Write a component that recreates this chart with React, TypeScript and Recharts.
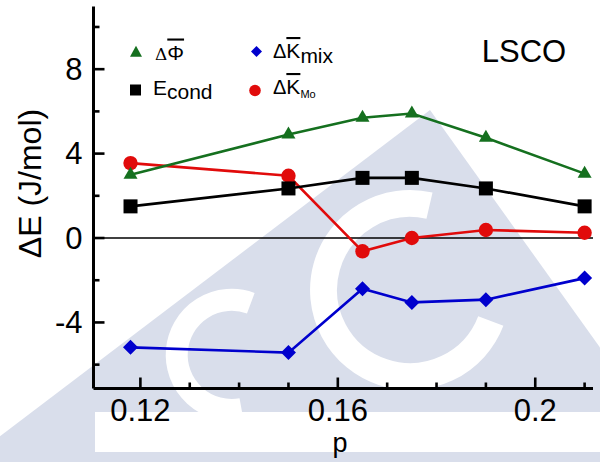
import React from 'react';
import {
  LineChart,
  Line,
  XAxis,
  YAxis,
  ReferenceLine,
  Customized,
} from 'recharts';

// Hole doping p of the LSCO samples
const pValues = [0.118, 0.15, 0.165, 0.175, 0.19, 0.21];
// Energy differences in J/mol
const deltaPhi = [3.0, 4.9, 5.7, 5.9, 4.75, 3.05];
const eCond = [1.5, 2.35, 2.85, 2.85, 2.35, 1.5];
const deltaKmix = [-5.18, -5.43, -2.4, -3.05, -2.92, -1.9];
const deltaKmo = [3.55, 2.95, -0.63, 0.0, 0.38, 0.25];

// Axis ticks
const xMajorTicks = [0.12, 0.16, 0.2];
const xMinorTicks = [0.13, 0.14, 0.15, 0.17, 0.18, 0.19, 0.21];
const xTickLabels = ['0.12', '0.16', '0.2'];
const yMajorTicks = [-4, 0, 4, 8];
const yMinorTicks = [-6, -2, 2, 6, 10];
const yTickLabels = ['-4', '0', '4', '8'];

const xDomain = [0.1105, 0.2117];
const yDomain = [-7.13, 10.97];

const rows = pValues.map((p, i) => ({
  p,
  phi: deltaPhi[i],
  econd: eCond[i],
  kmix: deltaKmix[i],
  kmo: deltaKmo[i],
}));

const xTicks = [...xMajorTicks, ...xMinorTicks].sort((a, b) => a - b);
const yTicks = [...yMajorTicks, ...yMinorTicks].sort((a, b) => a - b);

const FONT = '"Liberation Sans", Arial, Helvetica, sans-serif';
const GREEN = '#15701f';
const RED = '#e10b0b';
const BLUE = '#0000cd';
const BLACK = '#000000';
const MARK = '#d9deeb';

const majorIndex = (v: number, majors: number[]) =>
  majors.findIndex((m) => Math.abs(m - v) < 1e-9);

// ---- marker glyphs ----
const Tri = ({ cx, cy, w, h, fill }: any) => (
  <polygon
    points={`${cx},${cy - (2 * h) / 3} ${cx - w / 2},${cy + h / 3} ${cx + w / 2},${cy + h / 3}`}
    fill={fill}
  />
);
const Sq = ({ cx, cy, s, fill }: any) => (
  <rect x={cx - s / 2} y={cy - s / 2} width={s} height={s} fill={fill} />
);
const Dia = ({ cx, cy, r, fill }: any) => (
  <polygon
    points={`${cx},${cy - r} ${cx + r},${cy} ${cx},${cy + r} ${cx - r},${cy}`}
    fill={fill}
  />
);
const Circ = ({ cx, cy, r, fill }: any) => <circle cx={cx} cy={cy} r={r} fill={fill} />;

const triDot = (props: any) => (
  <Tri key={`t${props.index}`} cx={props.cx} cy={props.cy} w={14} h={12} fill={GREEN} />
);
const sqDot = (props: any) => (
  <Sq key={`s${props.index}`} cx={props.cx} cy={props.cy} s={14} fill={BLACK} />
);
const diaDot = (props: any) => (
  <Dia key={`d${props.index}`} cx={props.cx} cy={props.cy} r={7.5} fill={BLUE} />
);
const circDot = (props: any) => (
  <Circ key={`c${props.index}`} cx={props.cx} cy={props.cy} r={7.2} fill={RED} />
);

// ---- axis ticks (inward, long majors / short minors) ----
const BottomTick = (props: any) => {
  const { x, y, payload } = props;
  const idx = majorIndex(payload.value, xMajorTicks);
  const major = idx >= 0;
  return (
    <g>
      <line x1={x} x2={x} y1={y} y2={y - (major ? 11 : 6)} stroke={BLACK} strokeWidth={2.6} />
      {major && (
        <text x={x} y={y + 32.5} textAnchor="middle" fontSize={31} fontFamily={FONT} fill={BLACK}>
          {xTickLabels[idx]}
        </text>
      )}
    </g>
  );
};

const TopTick = (props: any) => {
  const { x, y, payload } = props;
  const major = majorIndex(payload.value, xMajorTicks) >= 0;
  return <line x1={x} x2={x} y1={y} y2={y + (major ? 11 : 6)} stroke={BLACK} strokeWidth={2.6} />;
};

const LeftTick = (props: any) => {
  const { x, y, payload } = props;
  const idx = majorIndex(payload.value, yMajorTicks);
  const major = idx >= 0;
  return (
    <g>
      <line x1={x} x2={x + (major ? 11 : 6)} y1={y} y2={y} stroke={BLACK} strokeWidth={2.6} />
      {major && (
        <text x={x - 11} y={y + 10.5} textAnchor="end" fontSize={31} fontFamily={FONT} fill={BLACK}>
          {yTickLabels[idx]}
        </text>
      )}
    </g>
  );
};

const RightTick = (props: any) => {
  const { x, y, payload } = props;
  const major = majorIndex(payload.value, yMajorTicks) >= 0;
  if (!major) return <g />;
  return <line x1={x} x2={x + 5} y1={y} y2={y} stroke={BLACK} strokeWidth={2.6} />;
};

// ---- titles, legend and sample label ----
const Annotations = () => (
  <g fontFamily={FONT} fill={BLACK}>
    <text
      transform="translate(41,183.5) rotate(-90)"
      textAnchor="middle"
      fontSize={32}
    >
      ΔE (J/mol)
    </text>
    <text x={340} y={452} textAnchor="middle" fontSize={27}>
      p
    </text>
    <text x={524} y={62} textAnchor="middle" fontSize={31}>
      LSCO
    </text>

    <Tri cx={136} cy={53} w={12} h={11} fill={GREEN} />
    <text x={155} y={59.5} fontSize={21}>
      <tspan fontSize={17} fontFamily="'DejaVu Serif', serif">Δ</tspan>
      <tspan style={{ textDecoration: 'overline' }}>Φ</tspan>
    </text>

    <Sq cx={135.5} cy={90} s={11} fill={BLACK} />
    <text x={153} y={94.5} fontSize={21}>
      E<tspan dy={4}>cond</tspan>
    </text>

    <Dia cx={256.5} cy={51.5} r={5.5} fill={BLUE} />
    <text x={273} y={58} fontSize={21}>
      <tspan fontSize={20}>Δ</tspan>
      <tspan style={{ textDecoration: 'overline' }}>K</tspan>
      <tspan dy={4.5}>mix</tspan>
    </text>

    <Circ cx={255} cy={90.5} r={5.8} fill={RED} />
    <text x={273} y={94} fontSize={21}>
      <tspan fontSize={20}>Δ</tspan>
      <tspan style={{ textDecoration: 'overline' }}>K</tspan>
      <tspan dy={4} fontSize={11}>Mo</tspan>
    </text>
  </g>
);

// Faint institutional emblem behind the plot
const Emblem = () => (
  <svg
    width={600}
    height={462}
    style={{ position: 'absolute', left: 0, top: 0 }}
  >
    <rect x={0} y={0} width={600} height={462} fill="#ffffff" />
    <polygon points="430,110 -34,462 682,462" fill={MARK} />
    <path
      d="M 429.5 205.7 A 86.5 86.5 0 1 0 490.8 321"
      fill="none"
      stroke="#ffffff"
      strokeWidth={27}
    />
    <path
      d="M 250.8 303.3 A 55 55 0 1 0 241.5 409"
      fill="none"
      stroke="#ffffff"
      strokeWidth={22}
    />
    <rect x={95} y={412} width={505} height={40} fill="#ffffff" />
  </svg>
);

export default function App() {
  return (
    <div
      style={{
        position: 'absolute',
        left: 0,
        top: 0,
        width: 600,
        height: 462,
        overflow: 'hidden',
      }}
    >
      <Emblem />
      <div style={{ position: 'absolute', left: 0, top: 0 }}>
        <LineChart
          width={600}
          height={462}
          data={rows}
          margin={{ top: 6.5, right: 7, bottom: 0, left: 0 }}
        >
          <XAxis
            dataKey="p"
            type="number"
            domain={xDomain}
            ticks={xTicks}
            interval={0}
            allowDataOverflow
            height={73.5}
            tickSize={0}
            tickMargin={0}
            tickLine={false}
            tick={BottomTick}
            axisLine={{ stroke: BLACK, strokeWidth: 3 }}
          />
          <XAxis
            xAxisId="top"
            orientation="top"
            dataKey="p"
            type="number"
            domain={xDomain}
            ticks={xTicks}
            interval={0}
            allowDataOverflow
            height={0}
            tickSize={0}
            tickMargin={0}
            tickLine={false}
            tick={TopTick}
            axisLine={{ stroke: BLACK, strokeWidth: 3 }}
          />
          <YAxis
            type="number"
            domain={yDomain}
            ticks={yTicks}
            interval={0}
            allowDataOverflow
            width={93.5}
            tickSize={0}
            tickMargin={0}
            tickLine={false}
            tick={LeftTick}
            axisLine={{ stroke: BLACK, strokeWidth: 3 }}
          />
          <YAxis
            yAxisId="right"
            orientation="right"
            type="number"
            domain={yDomain}
            ticks={yTicks}
            interval={0}
            allowDataOverflow
            width={0}
            tickSize={0}
            tickMargin={0}
            tickLine={false}
            tick={RightTick}
            axisLine={{ stroke: BLACK, strokeWidth: 3 }}
          />
          <ReferenceLine y={0} stroke="#000000" strokeWidth={1.4} />
          <Line
            dataKey="kmo"
            type="linear"
            stroke={RED}
            strokeWidth={2.6}
            dot={circDot}
            activeDot={false}
            isAnimationActive={false}
          />
          <Line
            dataKey="kmix"
            type="linear"
            stroke={BLUE}
            strokeWidth={2.6}
            dot={diaDot}
            activeDot={false}
            isAnimationActive={false}
          />
          <Line
            dataKey="econd"
            type="linear"
            stroke={BLACK}
            strokeWidth={2.6}
            dot={sqDot}
            activeDot={false}
            isAnimationActive={false}
          />
          <Line
            dataKey="phi"
            type="linear"
            stroke={GREEN}
            strokeWidth={2.6}
            dot={triDot}
            activeDot={false}
            isAnimationActive={false}
          />
          <Customized component={Annotations} />
        </LineChart>
      </div>
    </div>
  );
}
